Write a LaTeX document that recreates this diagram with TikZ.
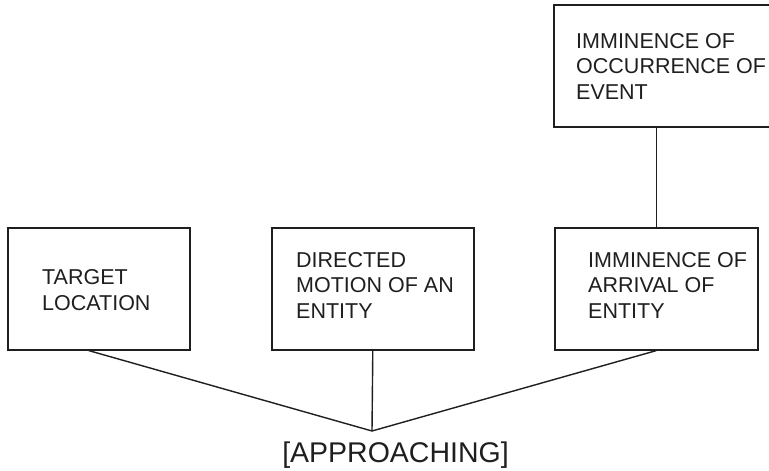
\documentclass[tikz,border=0pt]{standalone}
\usepackage{fontspec}
\setmainfont{Liberation Sans}
\begin{document}
\begin{tikzpicture}[x=1pt,y=-1pt,
  box/.style={draw=black!88,line width=1.6pt,rectangle,inner sep=0pt,anchor=north west},
  boxtext/.style={anchor=base west,align=left,inner sep=0pt,text=black!88,
    font=\fontsize{21.5}{25.5}\selectfont},
  link/.style={draw=black!88,line width=1.4pt}]
\clip (0,0) rectangle (769,471);
\fill[white] (0,0) rectangle (769,471);

% frame boxes
\node[box,minimum width=182pt,minimum height=122pt] (tl) at (7,227) {};
\node[box,minimum width=202pt,minimum height=122pt] (dm) at (271,227) {};
\node[box,minimum width=203pt,minimum height=122pt] (ia) at (554,227) {};
\node[box,minimum width=230pt,minimum height=122pt] (io) at (553,4) {};

% box contents (anchored at the baseline of the last line)
\node[boxtext] (tlt) at (42,310) {TARGET\\LOCATION};
\node[boxtext] (dmt) at (296,318) {DIRECTED\\MOTION OF AN\\ENTITY};
\node[boxtext] (iat) at (588,318) {IMMINENCE OF\\ARRIVAL OF\\ENTITY};
\node[boxtext] (iot) at (576,99) {IMMINENCE OF\\OCCURRENCE OF\\EVENT};

% meeting point and label
\coordinate (apex) at (372,431);
\node[anchor=base,inner sep=0pt,text=black!88,font=\fontsize{28.5}{30}\selectfont]
  (lab) at (395.5,462) {[APPROACHING]};

% connectors
\draw[link] ([xshift=-10pt]tl.south) -- (apex);
\draw[link] (dm.south) -- (apex);
\draw[link] (ia.south) -- (apex);
\draw[link] (io.south -| ia.north) -- (ia.north);
\end{tikzpicture}
\end{document}
